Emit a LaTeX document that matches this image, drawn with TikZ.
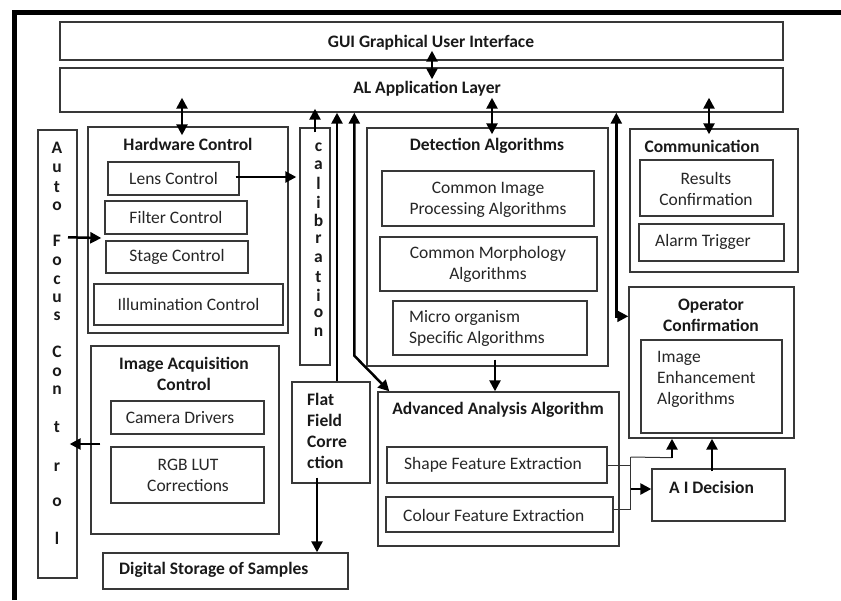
\documentclass[tikz,border=0pt]{standalone}
\usepackage{fontspec}
\setmainfont{Carlito}
\usetikzlibrary{arrows.meta,calc,fit}
\begin{document}
\begin{tikzpicture}[x=1pt,y=-1pt,
 box/.style={draw=black!78,line width=1.4pt,inner sep=0pt},
 lbl/.style={font=\fontsize{17.5}{21}\selectfont,align=center,inner sep=0pt,text=black!85},
 blbl/.style={font=\fontsize{17.5}{21}\selectfont\bfseries,align=center,inner sep=0pt,text=black!90},
 letter/.style={font=\fontsize{17.5}{21}\selectfont\bfseries,inner sep=0pt,text=black!90},
 arr/.style={line width=2.5pt,-{Triangle[length=11pt,width=11pt]}},
 darr/.style={line width=2.5pt,{Triangle[length=11pt,width=11pt]}-{Triangle[length=11pt,width=11pt]}},
 conn/.style={line width=1pt,draw=black!80}]
\useasboundingbox (0,0) rectangle (841,600);
% outer frame
\draw[line width=4.5pt] (14.5,600) -- (14.5,12.5) -- (841,12.5);

% top layers
\node[box,fit={(60,22) (783,60)}] (gui) {};
\node[blbl] (guit) at (431,43) {GUI Graphical User Interface};
\node[box,fit={(60,68) (783,112)}] (al) {};
\node[blbl] (alt) at (427,89) {AL Application Layer};

% auto focus control
\node[box,fit={(38,130) (77,578)}] (af) {};
\foreach \ch/\yy [count=\i] in {A/148,u/168,t/187,o/206,F/241,o/261,c/280,u/298,s/316,C/352,o/372,n/390,t/427,r/467,o/502,l/538}
  \node[letter] (afl\i) at (57,\yy) {\ch};

% hardware control
\node[box,fit={(88,127) (288,333)}] (hw) {};
\node[blbl] (hwt) at (188,144) {Hardware Control};
\node[box,fit={(108,162) (239,195)}] (lens) {};
\node[lbl] (lenst) at (173.5,178.5) {Lens Control};
\node[box,fit={(105,201) (247,234)}] (filt) {};
\node[lbl] (filtt) at (176,217.5) {Filter Control};
\node[box,fit={(106,241) (248,273)}] (stage) {};
\node[lbl] (staget) at (177,257) {Stage Control};
\node[box,fit={(94,284) (283,325)}] (illum) {};
\node[lbl] (illumt) at (188.5,304.5) {Illumination Control};

% calibration
\node[box,fit={(300,128) (330,365)}] (calib) {};
\foreach \ch/\yy [count=\i] in {c/147,a/165,l/183,i/202,b/220,r/239,a/258,t/277,i/295,o/313,n/332}
  \node[letter] (cal\i) at (318.5,\yy) {\ch};

% image acquisition
\node[box,fit={(91,346) (279,534)}] (ia) {};
\node[blbl] (iat) at (184,374) {Image Acquisition\\Control};
\node[box,fit={(111,401) (264,434)}] (cam) {};
\node[lbl] (camt) at (180,418) {Camera Drivers};
\node[box,fit={(111,447) (264,503)}] (rgb) {};
\node[lbl] (rgbt) at (188,475) {RGB LUT\\Corrections};

% flat field
\node[box,fit={(292,382) (370,483)}] (ff) {};
\node[blbl,align=left,anchor=west] (fft) at (307,431) {Flat\\Field\\Corre\\ction};

% storage
\node[box,fit={(103,553) (348,589)}] (st) {};
\node[blbl,anchor=west] (stt) at (119,570) {Digital Storage of Samples};

% detection
\node[box,fit={(367,128) (608,366)}] (det) {};
\node[blbl] (dett) at (487,146) {Detection Algorithms};
\node[box,fit={(382,171) (594,226)}] (cip) {};
\node[lbl] (cipt) at (488,200) {Common Image\\Processing Algorithms};
\node[box,fit={(380,237) (597,291)}] (cma) {};
\node[lbl] (cmat) at (488,264) {Common Morphology\\Algorithms};
\node[box,fit={(393,301) (587,355)}] (mic) {};
\node[lbl,align=left,anchor=west] (mict) at (409,328.5) {Micro organism\\Specific Algorithms};

% advanced analysis
\node[box,fit={(378,392) (619,546)}] (adv) {};
\node[blbl] (advt) at (498,410) {Advanced Analysis Algorithm};
\node[box,fit={(387,447) (607,483)}] (shape) {};
\node[lbl,anchor=west] (shapet) at (404,465) {Shape Feature Extraction};
\node[box,fit={(386,497) (613,532)}] (colour) {};
\node[lbl,anchor=west] (colourt) at (403,515) {Colour Feature Extraction};

% AI decision
\node[box,fit={(652,469) (785,521)}] (ai) {};
\node[blbl,anchor=west] (ait) at (669,487) {A I Decision};

% communication
\node[box,fit={(630,129) (798,272)}] (comm) {};
\node[blbl] (commt) at (702,146) {Communication};
\node[box,fit={(640,160) (773,216)}] (res) {};
\node[lbl] (rest) at (706,188.5) {Results\\Confirmation};
\node[box,fit={(639,224) (784,261)}] (alarm) {};
\node[lbl,anchor=west] (alarmt) at (655,242) {Alarm Trigger};

% operator confirmation
\node[box,fit={(629,287) (794,438)}] (op) {};
\node[blbl] (opt) at (711,315) {Operator\\Confirmation};
\node[box,fit={(641,340) (782,433)}] (ie) {};
\node[lbl,align=left,anchor=west] (iet) at (657,379.5) {Image\\Enhancement\\Algorithms};

% ---------- connectors ----------
\draw[darr] ($(gui.south)+(10.5,-10)$) -- ($(al.north)+(10.5,12)$);
\draw[darr] ($(hw.north |- al.south)+(-6,-15)$) -- ($(hw.north)+(-6,9)$);
\draw[arr] ($(lens.east)+(-4,-1.5)$) -- ($(calib.west |- lens.east)+(-3,-1.5)$);
\draw[arr] ($(af.north)+(10.5,108)$) -- ($(hw.west)+(14,8)$);
\draw[arr] ($(ia.west)+(10,4)$) -- ($(af.east)+(-8,90)$);
\draw[arr] ($(calib.north)+(0,5)$) -- ($(calib.north |- al.south)+(0,-4)$);

\coordinate (la1) at ($(ff.north)+(6,0)$);
\draw[arr] (la1) -- (la1 |- al.south);
\coordinate (la2) at ($(det.south west)+(-12,-11)$);
\draw[darr] (la2 |- al.south) -- (la2) -- ($(adv.north west)+(12,0)$);

\coordinate (ffo) at ($(ff.south)+(-14,-6)$);
\draw[arr] (ffo) -- (ffo |- st.north);

\draw[darr] ($(det.north |- al.south)+(4.5,-15)$) -- ($(det.north)+(4.5,7)$);
\coordinate (dd) at ($(det.south)+(7.5,-7)$);
\draw[arr] (dd) -- (dd |- adv.north);

\draw[darr] ($(comm.north |- al.south)+(-5,-15)$) -- ($(comm.north)+(-5,6)$);
\coordinate (ob) at ($(op.north west)+(-12,30)$);
\draw[darr] (ob |- al.south) -- (ob) -- (ob -| op.west);

\coordinate (jt) at ($(shape.east)+(23,-8)$);
\coordinate (jb) at ($(colour.east)+(17,-5.5)$);
\draw[conn] (shape.east) -- (shape.east -| jt);
\draw[conn] ($(colour.east)+(0,-5.5)$) -- (jb);
\draw[conn] (jt) -- (jb);
\coordinate (jo) at ($(op.south)+(-39.5,19)$);
\draw[conn] (jt) -- (jo);
\draw[arr] (jo) -- (jo |- op.south);
\coordinate (ja) at ($(jt)+(0,32)$);
\draw[arr] (ja) -- (ja -| ai.west);
\draw[arr] ($(ai.north)+(-6.5,3)$) -- ($(ai.north |- op.south)+(-6.5,0)$);
\end{tikzpicture}
\end{document}
